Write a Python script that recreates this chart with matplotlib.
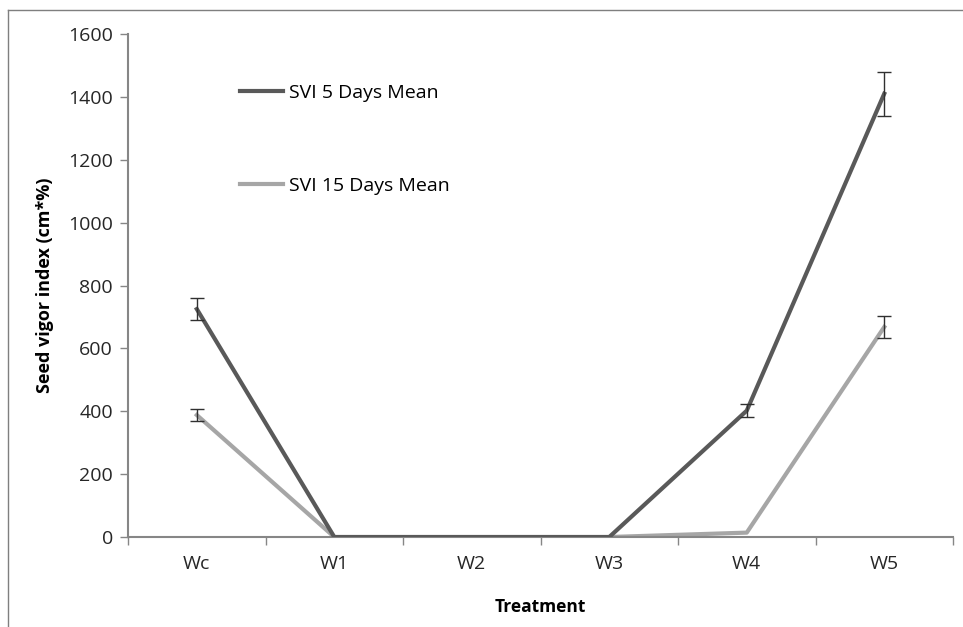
import matplotlib
matplotlib.use("Agg")
import matplotlib.pyplot as plt
import numpy as np
from matplotlib.lines import Line2D

treatments = ["Wc", "W1", "W2", "W3", "W4", "W5"]
svi_5_mean = [725, 0, 0, 0, 402, 1410]
svi_5_err = [35, 0, 0, 0, 20, 70]
svi_15_mean = [388, 0, 0, 0, 14, 668]
svi_15_err = [19, 0, 0, 0, 0, 34]

plt.rcParams["font.family"] = ["Open Sans", "DejaVu Sans"]

fig = plt.figure(figsize=(9.63, 6.27), dpi=100)
ax = fig.add_axes([0.133, 0.1435, 0.8566, 0.8023])

x = np.arange(len(treatments))
dark = "#595959"
light = "#a6a6a6"
axis_col = "#868686"

ax.plot(x, svi_5_mean, color=dark, lw=3, label="SVI 5 Days Mean", zorder=3)
ax.plot(x, svi_15_mean, color=light, lw=3, label="SVI 15 Days Mean", zorder=2)

# error bars only where they exist
for means, errs in [(svi_5_mean, svi_5_err), (svi_15_mean, svi_15_err)]:
    idx = [i for i, e in enumerate(errs) if e > 0]
    ax.errorbar(x[idx], np.array(means)[idx], yerr=np.array(errs)[idx], fmt="none",
                ecolor="#303030", elinewidth=1, capsize=5, capthick=1, zorder=4)

ax.set_xlim(-0.5, len(treatments) - 0.5)
ax.set_ylim(0, 1600)
ax.set_yticks(range(0, 1601, 200))
ax.set_xticks(np.arange(-0.5, len(treatments), 1.0))
ax.set_xticklabels([])
ax.set_xticks(x, minor=True)
ax.set_xticklabels(treatments, minor=True)
ax.tick_params(axis="x", which="minor", length=0, pad=13, labelsize=14, colors="#262626")
ax.tick_params(axis="x", which="major", length=6, width=1, color=axis_col, direction="out")
ax.tick_params(axis="y", length=6, width=1, color=axis_col, labelsize=14, labelcolor="#262626", pad=5)

for side in ["top", "right"]:
    ax.spines[side].set_visible(False)
for side in ["left", "bottom"]:
    ax.spines[side].set_color(axis_col)
    ax.spines[side].set_linewidth(1.5)

ax.set_ylabel("Seed vigor index (cm*%)", fontsize=13, fontweight="bold", labelpad=10)
ax.set_xlabel("Treatment", fontsize=12.5, fontweight="bold", labelpad=18)

ax.legend(loc="upper left", bbox_to_anchor=(0.115, 0.935), frameon=False, fontsize=14,
          labelspacing=3.85, handlelength=2.2, handletextpad=0.3)

# outer chart border (left and top visible)
fig.add_artist(Line2D([0.0085, 0.0085], [0, 0.984], transform=fig.transFigure, color="#7f7f7f", lw=1))
fig.add_artist(Line2D([0.0085, 1.0], [0.984, 0.984], transform=fig.transFigure, color="#7f7f7f", lw=1))

fig.savefig("out.png", dpi=100)
